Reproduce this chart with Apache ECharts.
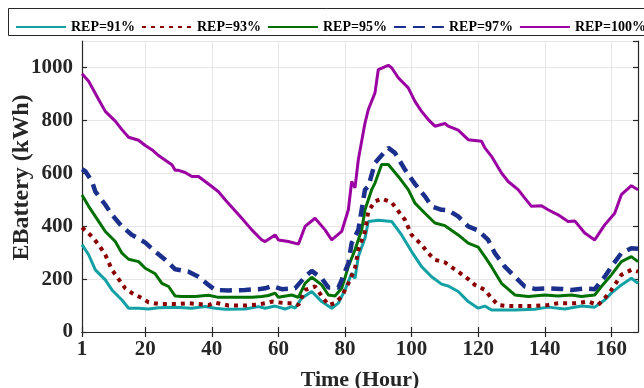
<!DOCTYPE html>
<html>
<head>
<meta charset="utf-8">
<script src="https://cdn.jsdelivr.net/npm/echarts@6/dist/echarts.min.js"></script>
<style>
  html, body { margin: 0; padding: 0; background: #fff; }
  #chart { width: 644px; height: 388px; }
</style>
</head>
<body>
<div id="chart"></div>
<script>
// [hour, kWh]
const rep91 = [
  [1, 330], [3, 292], [5, 235], [8, 197], [10, 159], [13, 121], [15, 90], [18, 90], [21, 87], [24, 92],
  [29, 94], [34, 90], [38, 96], [41, 90], [44, 86], [50, 87], [54, 96], [56, 90], [59, 98], [62, 87],
  [64, 96], [65, 90], [67, 128], [70, 153], [73, 115], [76, 90], [78, 109], [80, 159], [82, 222],
  [83, 203], [84, 285], [86, 355], [87, 418], [90, 422], [94, 418], [97, 367], [100, 304], [103, 247],
  [106, 209], [109, 181], [111, 174], [114, 153], [117, 115], [120, 90], [122, 98], [124, 83],
  [131, 83], [137, 86], [141, 94], [146, 87], [151, 98], [155, 94], [158, 121], [160, 147],
  [163, 178], [166, 203], [168, 184]
];
const rep93 = [
  [1, 395], [4, 361], [6, 330], [8, 292], [10, 235], [12, 200], [14, 165], [16, 147], [19, 128],
  [21, 112], [24, 106], [27, 106], [30, 106], [33, 109], [39, 102], [41, 111], [45, 100], [50, 100],
  [54, 104], [57, 111], [58, 115], [62, 109], [64, 109], [66, 102], [68, 159], [71, 172], [73, 136],
  [75, 102], [77, 109], [79, 134], [81, 184], [83, 241], [84, 311], [86, 380], [87, 456], [89, 494],
  [91, 504], [94, 490], [98, 424], [100, 367], [103, 330], [105, 298], [107, 273], [110, 263],
  [111, 254], [114, 228], [117, 200], [119, 178], [122, 159], [124, 128], [126, 102], [129, 98],
  [135, 98], [141, 102], [144, 109], [149, 109], [153, 115], [156, 102], [158, 128], [160, 159],
  [163, 216], [166, 235], [168, 228]
];
const rep95 = [
  [1, 518], [3, 475], [6, 418], [8, 380], [11, 342], [13, 298], [15, 275], [18, 266], [20, 241],
  [23, 220], [25, 184], [27, 172], [29, 136], [31, 134], [35, 134], [39, 139], [42, 131], [47, 131],
  [52, 131], [55, 134], [57, 138], [59, 147], [60, 131], [64, 140], [66, 131], [68, 184], [70, 207],
  [73, 178], [75, 140], [77, 136], [79, 165], [81, 247], [83, 311], [85, 386], [86, 462], [88, 538],
  [89, 563], [91, 633], [93, 633], [96, 588], [99, 538], [101, 487], [104, 449], [107, 412],
  [110, 402], [111, 393], [114, 367], [117, 336], [120, 321], [122, 285], [124, 247], [127, 184],
  [131, 140], [135, 134], [140, 140], [144, 136], [148, 140], [151, 134], [155, 140], [157, 172],
  [160, 216], [163, 266], [166, 285], [168, 266]
];
const rep97 = [
  [1, 615], [2, 608], [4, 569], [5, 531], [8, 481], [10, 443], [13, 399], [16, 367], [20, 338],
  [23, 304], [26, 273], [29, 237], [33, 228], [36, 209], [39, 178], [41, 159], [45, 157], [50, 159],
  [54, 162], [56, 165], [58, 174], [61, 162], [65, 165], [68, 209], [70, 231], [73, 203], [75, 168],
  [78, 168], [79, 197], [81, 260], [82, 336], [84, 386], [85, 462], [86, 538], [87, 550], [89, 639],
  [93, 696], [95, 677], [98, 614], [101, 560], [104, 513], [106, 475], [109, 462], [111, 460],
  [114, 437], [117, 399], [120, 384], [123, 348], [125, 298], [128, 247], [131, 209], [134, 172],
  [137, 163], [141, 165], [145, 163], [148, 159], [152, 165], [155, 162], [158, 209], [160, 247],
  [163, 298], [166, 317], [168, 315]
];
const rep100 = [
  [1, 976], [3, 948], [6, 879], [8, 834], [11, 797], [13, 765], [15, 736], [18, 725], [20, 705],
  [22, 689], [24, 667], [27, 641], [28, 632], [29, 611], [30, 611], [32, 603], [34, 588], [36, 588],
  [38, 569], [40, 550], [42, 530], [44, 500], [49, 430], [52, 386], [55, 348], [56, 342], [59, 367],
  [60, 348], [63, 342], [66, 332], [68, 399], [71, 430], [74, 386], [76, 348], [79, 380], [81, 462],
  [82, 569], [83, 545], [84, 652], [86, 790], [87, 841], [89, 904], [90, 992], [93, 1008], [94, 999],
  [96, 961], [99, 923], [101, 872], [103, 834], [105, 803], [107, 778], [110, 788], [111, 778],
  [114, 763], [117, 727], [121, 721], [122, 696], [124, 664], [127, 601], [129, 569], [132, 538],
  [134, 506], [136, 475], [139, 477], [141, 462], [144, 443], [147, 418], [149, 420], [152, 374],
  [155, 348], [158, 405], [161, 449], [163, 519], [166, 553], [168, 538]
];
const names = ['REP=91%', 'REP=93%', 'REP=95%', 'REP=97%', 'REP=100%'];
const xTicks = [1, 20, 40, 60, 80, 100, 120, 140, 160];

const serif = '"Liberation Serif", "Times New Roman", serif';
const chart = echarts.init(document.getElementById('chart'), null, { renderer: 'canvas' });

const styles = [
  { color: '#13a1a5', width: 3, type: 'solid' },
  { color: '#8b0000', width: 4, type: [4, 5] },
  { color: '#007000', width: 3, type: 'solid' },
  { color: '#1b2f8c', width: 4.5, type: [12, 7] },
  { color: '#9a00a2', width: 3, type: 'solid' }
];
const dataSets = [rep91, rep93, rep95, rep97, rep100];

const series = dataSets.map((d, i) => ({
  name: names[i],
  type: 'line',
  data: d,
  symbol: 'none',
  smooth: false,
  animation: false,
  z: 10 + i,
  lineStyle: { color: styles[i].color, width: styles[i].width, type: styles[i].type, cap: 'butt' },
  itemStyle: { color: styles[i].color }
}));

const axisLine = { show: true, lineStyle: { color: '#262626', width: 1.2 } };
const tickStyle = { show: true, inside: true, length: 5, lineStyle: { color: '#262626', width: 1.2 } };
const gridLine = { show: true, lineStyle: { color: '#e6e6e6', width: 1 } };
const labelFont = { fontFamily: serif, fontWeight: 'bold', fontSize: 21, color: '#262626' };
const nameFont = { fontFamily: serif, fontWeight: 'bold', fontSize: 22, color: '#262626' };

chart.setOption({
  backgroundColor: '#fff',
  animation: false,
  graphic: [{
    type: 'rect',
    shape: { x: 8.5, y: 8.5, width: 640, height: 27 },
    style: { fill: '#fff', stroke: '#262626', lineWidth: 1 },
    z: 0
  }],
  legend: {
    data: names,
    left: 10,
    top: 15,
    width: 640,
    itemWidth: 50,
    itemHeight: 10,
    itemGap: 6,
    itemStyle: { opacity: 0 },
    textStyle: { fontFamily: serif, fontWeight: 'bold', fontSize: 14, color: '#000' },
    z: 5
  },
  grid: { left: 82, right: 6, top: 41, bottom: 56, outerBoundsMode: 'none', containLabel: false },
  xAxis: [{
    type: 'value',
    min: 1,
    max: 168,
    name: 'Time (Hour)',
    nameLocation: 'middle',
    nameGap: 37,
    nameMoveOverlap: false,
    nameTextStyle: nameFont,
    axisLine: axisLine,
    axisTick: Object.assign({ customValues: xTicks }, tickStyle),
    axisLabel: Object.assign({ customValues: xTicks, margin: 7 }, labelFont),
    splitLine: gridLine
  }, {
    type: 'value',
    min: 1,
    max: 168,
    position: 'top',
    axisLine: axisLine,
    axisTick: Object.assign({ customValues: xTicks }, tickStyle),
    axisLabel: { show: false },
    splitLine: { show: false }
  }],
  yAxis: [{
    type: 'value',
    min: 0,
    max: 1100,
    interval: 200,
    name: 'EBattery (kWh)',
    nameLocation: 'middle',
    nameGap: 48,
    nameMoveOverlap: false,
    nameTextStyle: Object.assign({}, nameFont, { fontSize: 24, padding: [0, 0, 0, 18] }),
    axisLine: axisLine,
    axisTick: tickStyle,
    axisLabel: Object.assign({ margin: 9, showMaxLabel: false, formatter: (v) => String(v) }, labelFont),
    splitLine: gridLine
  }, {
    type: 'value',
    min: 0,
    max: 1100,
    interval: 200,
    position: 'right',
    axisLine: axisLine,
    axisTick: tickStyle,
    axisLabel: { show: false },
    splitLine: { show: false }
  }],
  series: series
});
</script>
</body>
</html>
